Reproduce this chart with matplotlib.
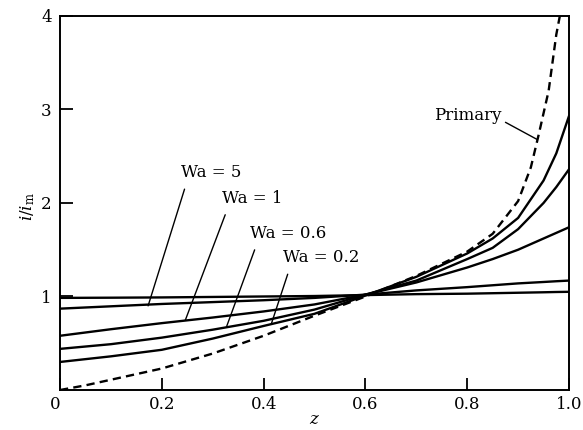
import matplotlib.pyplot as plt

plt.rcParams["font.family"] = ["DejaVu Serif"]
plt.rcParams["mathtext.fontset"] = "dejavuserif"

# position along the electrode and local current density ratio i/i_m
z = [0.0, 0.1, 0.2, 0.3, 0.4, 0.5, 0.6, 0.7, 0.8, 0.85, 0.9, 0.95, 0.975, 1.0]
i_flat = [0.985, 0.987, 0.99, 0.995, 1.0, 1.005, 1.015, 1.025, 1.03, 1.035, 1.04, 1.045, 1.048, 1.05]
i_wa5 = [0.87, 0.895, 0.92, 0.94, 0.96, 0.985, 1.02, 1.065, 1.10, 1.12, 1.14, 1.155, 1.163, 1.17]
i_wa1 = [0.58, 0.65, 0.715, 0.775, 0.84, 0.915, 1.02, 1.15, 1.31, 1.40, 1.50, 1.62, 1.68, 1.74]
i_wa06 = [0.44, 0.49, 0.56, 0.645, 0.74, 0.86, 1.02, 1.17, 1.40, 1.52, 1.72, 2.0, 2.17, 2.36]
i_wa02 = [0.30, 0.36, 0.43, 0.55, 0.685, 0.815, 1.01, 1.21, 1.46, 1.62, 1.84, 2.24, 2.53, 2.93]

# primary distribution (no kinetic resistance)
z_primary = [0.0, 0.05, 0.1, 0.2, 0.3, 0.4, 0.5, 0.6, 0.7, 0.8, 0.85, 0.9, 0.925, 0.94, 0.96, 0.975, 0.982]
i_primary = [0.0, 0.05, 0.11, 0.23, 0.39, 0.58, 0.795, 1.0, 1.22, 1.48, 1.67, 2.02, 2.38, 2.72, 3.2, 3.8, 4.0]

x_ticks = [0, 0.2, 0.4, 0.6, 0.8, 1.0]
x_tick_labels = ["0", "0.2", "0.4", "0.6", "0.8", "1.0"]
y_ticks = [1, 2, 3, 4]
y_tick_labels = ["1", "2", "3", "4"]

fig = plt.figure(figsize=(5.83, 4.30), dpi=100)
ax = fig.add_axes([0.103, 0.093, 0.873, 0.870])

lw = 1.7
ax.plot(z, i_flat, color="black", lw=lw)
ax.plot(z, i_wa5, color="black", lw=lw)
ax.plot(z, i_wa1, color="black", lw=lw)
ax.plot(z, i_wa06, color="black", lw=lw)
ax.plot(z, i_wa02, color="black", lw=lw)
ax.plot(z_primary, i_primary, color="black", lw=lw, dashes=(3.5, 2.2))

ax.set_xlim(0, 1)
ax.set_ylim(0, 4)
ax.set_xticks(x_ticks)
ax.set_xticklabels(x_tick_labels)
ax.set_yticks(y_ticks)
ax.set_yticklabels(y_tick_labels)
ax.get_xticklabels()[0].set_ha("right")
ax.tick_params(axis="both", direction="in", length=9, width=1.3, labelsize=12)
ax.tick_params(axis="x", pad=4)
ax.tick_params(axis="y", pad=6)
for s in ax.spines.values():
    s.set_linewidth(1.4)

ax.set_xlabel("$z$", fontsize=12)
ax.xaxis.set_label_coords(0.5, -0.056)
ax.set_ylabel(r"$i/i_{\rm m}$", fontsize=12)
ax.yaxis.set_label_coords(-0.045, 0.49)

# curve labels with leader lines
leader = dict(arrowstyle="-", color="black", lw=1.0, shrinkA=4, shrinkB=0)
ax.annotate("Wa = 5", xy=(0.173, 0.9), xytext=(0.297, 2.325), fontsize=12,
            ha="center", va="center", arrowprops=dict(leader, relpos=(0.1, 0)))
ax.annotate("Wa = 1", xy=(0.246, 0.745), xytext=(0.378, 2.05), fontsize=12,
            ha="center", va="center", arrowprops=dict(leader, relpos=(0.1, 0)))
ax.annotate("Wa = 0.6", xy=(0.327, 0.675), xytext=(0.448, 1.675), fontsize=12,
            ha="center", va="center", arrowprops=dict(leader, relpos=(0.1, 0)))
ax.annotate("Wa = 0.2", xy=(0.415, 0.705), xytext=(0.514, 1.415), fontsize=12,
            ha="center", va="center", arrowprops=dict(leader, relpos=(0.09, 0)))
ax.annotate("Primary", xy=(0.937, 2.68), xytext=(0.801, 2.94), fontsize=12,
            ha="center", va="center",
            arrowprops=dict(leader, relpos=(1.0, 0.2), shrinkA=1))

fig.savefig("out.png", dpi=100)
